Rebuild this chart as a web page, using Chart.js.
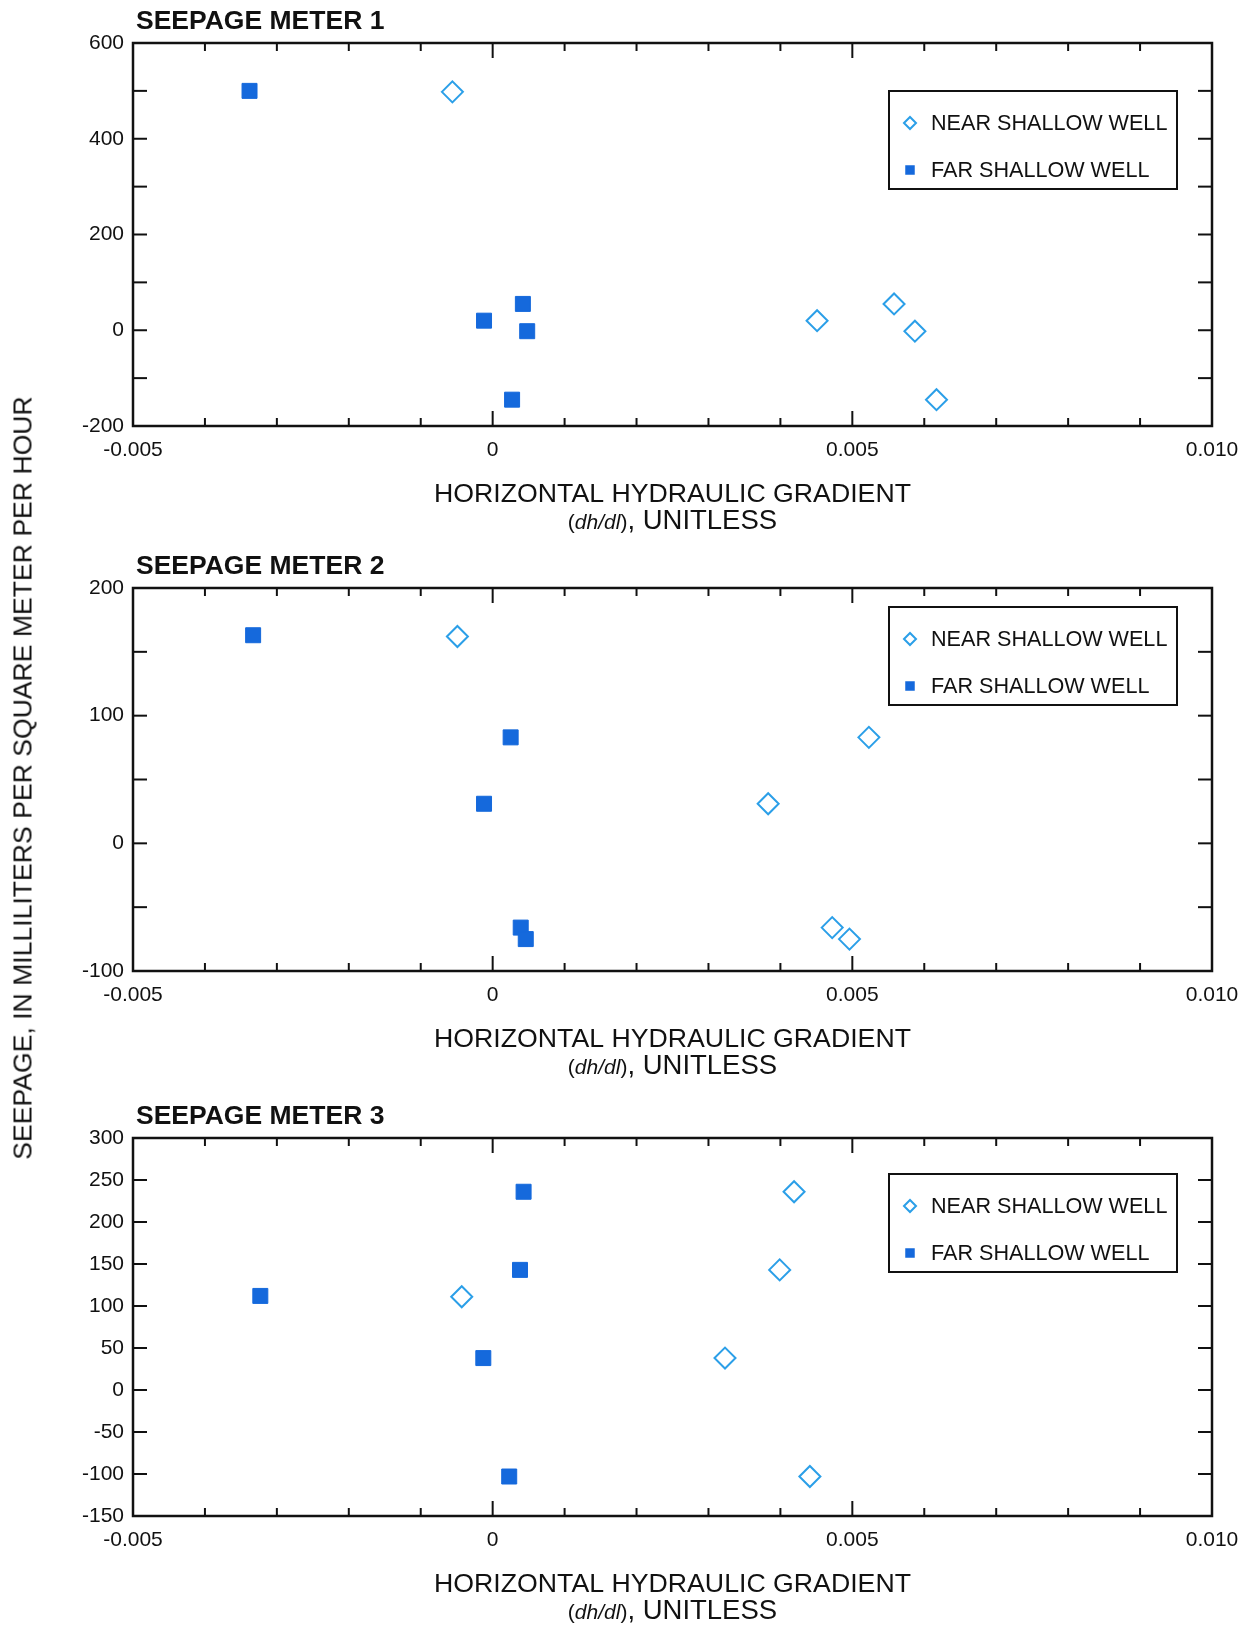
<!DOCTYPE html>
<html>
<head>
<meta charset="utf-8">
<script src="https://cdn.jsdelivr.net/npm/chart.js@4/dist/chart.umd.min.js"></script>
<style>
  body { margin: 0; background: #fff; }
  #page { position: relative; width: 1250px; height: 1627px; overflow: hidden; background: #fff; }
  canvas { position: absolute; left: 0; }
  #ytitle {
    position: absolute; left: 23px; top: 778px;
    transform: translate(-50%, -50%) rotate(-90deg);
    white-space: nowrap; font: 26.6px "Liberation Sans", Arial, sans-serif; color: #111;
  }
</style>
</head>
<body>
<div id="page">
  <canvas id="c1" width="1250" height="540" style="top:0px"></canvas>
  <canvas id="c2" width="1250" height="540" style="top:540px"></canvas>
  <canvas id="c3" width="1250" height="537" style="top:1090px"></canvas>
  <div id="ytitle">SEEPAGE, IN MILLILITERS PER SQUARE METER PER HOUR</div>
</div>
<script>
// x axis (horizontal hydraulic gradient), shared by all three panels
const xTicks = [-0.005, -0.004, -0.003, -0.002, -0.001, 0, 0.001, 0.002, 0.003, 0.004, 0.005, 0.006, 0.007, 0.008, 0.009, 0.010];
const xTickLabels = ['-0.005', '', '', '', '', '0', '', '', '', '', '0.005', '', '', '', '', '0.010'];

// seepage meter 1
const m1Ticks = [-200, -100, 0, 100, 200, 300, 400, 500, 600];
const m1TickLabels = ['-200', '', '0', '', '200', '', '400', '', '600'];
const m1NearX = [-0.00056, 0.00451, 0.00558, 0.00587, 0.00617];
const m1NearY = [498, 20, 55, -2, -145];
const m1FarX = [-0.00338, -0.00012, 0.00042, 0.00048, 0.00027];
const m1FarY = [500, 20, 55, -2, -145];

// seepage meter 2
const m2Ticks = [-100, -50, 0, 50, 100, 150, 200];
const m2TickLabels = ['-100', '', '0', '', '100', '', '200'];
const m2NearX = [-0.00049, 0.00523, 0.00383, 0.00472, 0.00496];
const m2NearY = [162, 83, 31, -66, -75];
const m2FarX = [-0.00333, 0.00025, -0.00012, 0.00039, 0.00046];
const m2FarY = [163, 83, 31, -66, -75];

// seepage meter 3
const m3Ticks = [-150, -100, -50, 0, 50, 100, 150, 200, 250, 300];
const m3TickLabels = ['-150', '-100', '-50', '0', '50', '100', '150', '200', '250', '300'];
const m3NearX = [-0.00043, 0.00419, 0.00399, 0.00323, 0.00441];
const m3NearY = [111, 236, 143, 38, -103];
const m3FarX = [-0.00323, 0.00043, 0.00038, -0.00013, 0.00023];
const m3FarY = [112, 236, 143, 38, -103];

const NEAR_COLOR = '#2b9fe8';
const FAR_COLOR = '#1569dc';
const INK = '#111';
const FONT = '"Liberation Sans", Arial, sans-serif';

Chart.defaults.font.family = FONT;
Chart.defaults.color = INK;

function pts(xs, ys) {
  return xs.map((x, i) => ({ x: x, y: ys[i] }));
}

function marker(ctx, style, r, x, y, color, filled) {
  ctx.save();
  ctx.strokeStyle = color;
  ctx.fillStyle = filled ? color : 'rgba(0,0,0,0)';
  ctx.lineWidth = 2;
  if (Chart.helpers && Chart.helpers.drawPoint) {
    Chart.helpers.drawPoint(ctx, { pointStyle: style, radius: r, rotation: 0, borderWidth: filled ? 1 : 2 }, x, y);
  } else {
    ctx.beginPath();
    if (style === 'rectRot') {
      ctx.moveTo(x - r, y); ctx.lineTo(x, y - r); ctx.lineTo(x + r, y); ctx.lineTo(x, y + r);
      ctx.closePath(); ctx.stroke();
    } else {
      const s = r * Math.SQRT1_2;
      ctx.fillRect(x - s, y - s, 2 * s, 2 * s);
    }
  }
  ctx.restore();
}

// box round the plot, inward ticks on all four sides
const frameTicks = {
  id: 'frameTicks',
  afterDatasetsDraw(chart) {
    const { ctx, chartArea: a } = chart;
    const xs = chart.scales.x, ys = chart.scales.y;
    ctx.save();
    ctx.strokeStyle = INK;
    ctx.lineWidth = 2;
    const line = (x1, y1, x2, y2) => { ctx.beginPath(); ctx.moveTo(x1, y1); ctx.lineTo(x2, y2); ctx.stroke(); };
    xs.ticks.forEach(t => {
      const px = xs.getPixelForValue(t.value);
      const len = t.label ? 15 : 8;
      line(px, a.bottom, px, a.bottom - len);
      line(px, a.top, px, a.top + len);
    });
    ys.ticks.forEach(t => {
      const py = ys.getPixelForValue(t.value);
      line(a.left, py, a.left + 14, py);
      line(a.right, py, a.right - 14, py);
    });
    ctx.lineWidth = 2.5;
    ctx.strokeRect(a.left, a.top, a.right - a.left, a.bottom - a.top);
    ctx.restore();
  }
};

// panel title, two-line x title, boxed legend
const panelText = {
  id: 'panelText',
  afterDraw(chart, args, opts) {
    const { ctx, chartArea: a } = chart;
    ctx.save();
    ctx.fillStyle = INK;
    ctx.textBaseline = 'alphabetic';

    ctx.font = 'bold 26.5px ' + FONT;
    ctx.textAlign = 'left';
    ctx.fillText(opts.title, a.left + 3, a.top - 14);

    const cx = (a.left + a.right) / 2;
    ctx.font = '26.7px ' + FONT;
    ctx.textAlign = 'center';
    ctx.fillText('HORIZONTAL HYDRAULIC GRADIENT', cx, a.bottom + 76);

    // second line: (dh/dl), UNITLESS with italic dh/dl
    const parts = [
      ['21px ' + FONT, '('],
      ['italic 21px ' + FONT, 'dh/dl'],
      ['21px ' + FONT, ')'],
      ['27.5px ' + FONT, ', UNITLESS']
    ];
    let w = 0;
    parts.forEach(p => { ctx.font = p[0]; w += ctx.measureText(p[1]).width; });
    let px = cx - w / 2;
    ctx.textAlign = 'left';
    parts.forEach(p => { ctx.font = p[0]; ctx.fillText(p[1], px, a.bottom + 103); px += ctx.measureText(p[1]).width; });

    // legend box
    const bw = 288, bh = 98;
    const bx = a.right - 35 - bw, by = a.top + opts.legendTop;
    ctx.fillStyle = '#fff';
    ctx.fillRect(bx, by, bw, bh);
    ctx.strokeStyle = INK;
    ctx.lineWidth = 2;
    ctx.strokeRect(bx, by, bw, bh);
    const ds = chart.data.datasets;
    const rows = [by + 32, by + 79];
    ds.forEach((d, i) => {
      const filled = d.pointStyle === 'rect';
      marker(ctx, d.pointStyle, filled ? 5.3 : 6, bx + 21, rows[i], d.borderColor, filled);
      ctx.fillStyle = INK;
      ctx.font = '21.6px ' + FONT;
      ctx.textBaseline = 'middle';
      ctx.fillText(d.label, bx + 42, rows[i] + 1);
    });
    ctx.restore();
  }
};

function makePanel(id, title, yTicks, yLabels, nearX, nearY, farX, farY, padTop, xHeight, legendTop) {
  return new Chart(document.getElementById(id), {
    type: 'scatter',
    data: {
      datasets: [
        {
          label: 'NEAR SHALLOW WELL',
          data: pts(nearX, nearY),
          pointStyle: 'rectRot',
          pointRadius: 10.5,
          borderWidth: 2,
          borderColor: NEAR_COLOR,
          backgroundColor: 'rgba(0,0,0,0)'
        },
        {
          label: 'FAR SHALLOW WELL',
          data: pts(farX, farY),
          pointStyle: 'rect',
          pointRadius: 10.6,
          borderWidth: 1,
          borderColor: FAR_COLOR,
          backgroundColor: FAR_COLOR
        }
      ]
    },
    options: {
      responsive: false,
      animation: false,
      devicePixelRatio: 1,
      events: [],
      layout: { padding: { left: 0, right: 38, top: padTop, bottom: 0 } },
      plugins: {
        legend: { display: false },
        tooltip: { enabled: false },
        panelText: { title: title, legendTop: legendTop }
      },
      scales: {
        x: {
          type: 'linear',
          min: xTicks[0],
          max: xTicks[xTicks.length - 1],
          grid: { display: false, drawTicks: false },
          border: { display: false },
          afterBuildTicks: s => { s.ticks = xTicks.map(v => ({ value: v })); },
          afterFit: s => { s.height = xHeight; s.paddingLeft = 0; s.paddingRight = 0; },
          ticks: {
            autoSkip: false,
            maxRotation: 0,
            padding: 12,
            font: { size: 21 },
            color: INK,
            callback: (v, i) => xTickLabels[i]
          }
        },
        y: {
          type: 'linear',
          min: yTicks[0],
          max: yTicks[yTicks.length - 1],
          grid: { display: false, drawTicks: false },
          border: { display: false },
          afterBuildTicks: s => { s.ticks = yTicks.map(v => ({ value: v })); },
          afterFit: s => { s.width = 133; },
          ticks: {
            autoSkip: false,
            padding: 9,
            font: { size: 21 },
            color: INK,
            callback: (v, i) => yLabels[i]
          }
        }
      }
    },
    plugins: [frameTicks, panelText]
  });
}

makePanel('c1', 'SEEPAGE METER 1', m1Ticks, m1TickLabels, m1NearX, m1NearY, m1FarX, m1FarY, 43, 114, 48);
makePanel('c2', 'SEEPAGE METER 2', m2Ticks, m2TickLabels, m2NearX, m2NearY, m2FarX, m2FarY, 48, 109, 19);
makePanel('c3', 'SEEPAGE METER 3', m3Ticks, m3TickLabels, m3NearX, m3NearY, m3FarX, m3FarY, 48, 111, 36);
</script>
</body>
</html>
